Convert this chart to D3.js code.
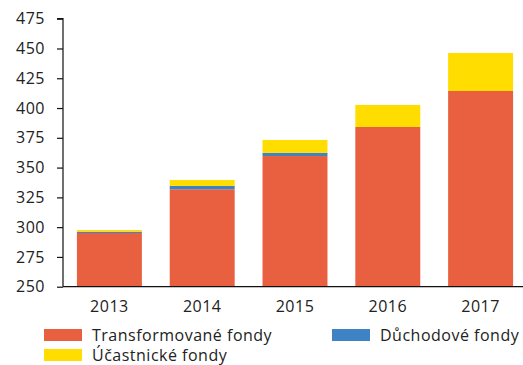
<!DOCTYPE html>
<html>
<head>
<meta charset="utf-8">
<script src="https://cdn.jsdelivr.net/npm/d3@7"></script>
<style>
  html, body { margin: 0; padding: 0; background: #fff; }
  svg { display: block; }
  text { font-family: "Open Sans", "Noto Sans", sans-serif; fill: #222; letter-spacing: 0.5px; }
</style>
</head>
<body>
<svg id="chart" width="523" height="365"></svg>
<script>
// Assets of pension funds by year (bn CZK), stacked
const years = ["2013", "2014", "2015", "2016", "2017"];
const transformovane = [295.1, 331.8, 359.7, 384.1, 414.3];
const duchodove = [1.1, 2.8, 2.6, 0, 0];
const ucastnicke = [1.4, 5.0, 10.9, 18.5, 31.9];
const yTicks = [250, 275, 300, 325, 350, 375, 400, 425, 450, 475];

const seriesNames = ["Transformované fondy", "Důchodové fondy", "Účastnické fondy"];
const colors = {
  "Transformované fondy": "#E8603F",
  "Důchodové fondy": "#3E84C4",
  "Účastnické fondy": "#FFDD00"
};

const rows = years.map((y, i) => ({
  year: y,
  "Transformované fondy": transformovane[i],
  "Důchodové fondy": duchodove[i],
  "Účastnické fondy": ucastnicke[i]
}));

const svg = d3.select("#chart");
const x0 = 63, x1 = 527, yTop = 18.7, yBase = 286.7;
const fontSize = 16;

const x = d3.scaleBand().domain(years).range([x0, x1])
  .paddingInner(0.3).paddingOuter(0.15);
const y = d3.scaleLinear().domain([250, 475]).range([yBase, yTop]);

const stacked = d3.stack().keys(seriesNames)(rows);

// Bars are clipped at the axis floor (250)
svg.append("defs").append("clipPath").attr("id", "plot")
  .append("rect").attr("x", x0).attr("y", 0).attr("width", 523).attr("height", yBase);

const g = svg.append("g").attr("clip-path", "url(#plot)");
g.selectAll("g.series").data(stacked).join("g")
  .attr("fill", d => colors[d.key])
  .selectAll("rect").data(d => d).join("rect")
  .attr("x", d => x(d.data.year))
  .attr("width", x.bandwidth())
  .attr("y", d => y(d[1]))
  .attr("height", d => Math.max(0, y(d[0]) - y(d[1])));

// Y axis
const yAxis = svg.append("g").attr("transform", `translate(${x0},0)`)
  .call(d3.axisLeft(y).tickValues(yTicks).tickSize(6).tickPadding(12).tickFormat(d3.format("d")));
yAxis.select(".domain").attr("stroke", "#111").attr("stroke-width", 1.2)
  .attr("d", `M-6,${yTop}H0V${yBase}`);
yAxis.selectAll(".tick line").attr("stroke", "#111").attr("stroke-width", 1.2);
yAxis.selectAll(".tick text").attr("font-size", fontSize).attr("fill", "#222");

// X axis
const xAxis = svg.append("g").attr("transform", `translate(0,${yBase})`)
  .call(d3.axisBottom(x).tickSize(0).tickPadding(14));
xAxis.select(".domain").attr("stroke", "#111").attr("stroke-width", 1.2)
  .attr("d", `M${x0},0H523`);
xAxis.selectAll(".tick text").attr("font-size", fontSize).attr("fill", "#222");

// Legend
const legendItems = [
  { name: "Transformované fondy", sx: 44, sy: 329 },
  { name: "Důchodové fondy", sx: 332, sy: 329 },
  { name: "Účastnické fondy", sx: 44, sy: 349 }
];
const lg = svg.append("g").selectAll("g").data(legendItems).join("g");
lg.append("rect")
  .attr("x", d => d.sx).attr("y", d => d.sy)
  .attr("width", 38).attr("height", 12)
  .attr("fill", d => colors[d.name]);
lg.append("text")
  .attr("x", d => d.sx + 48).attr("y", d => d.sy + 12)
  .attr("font-size", fontSize)
  .text(d => d.name);
</script>
</body>
</html>
